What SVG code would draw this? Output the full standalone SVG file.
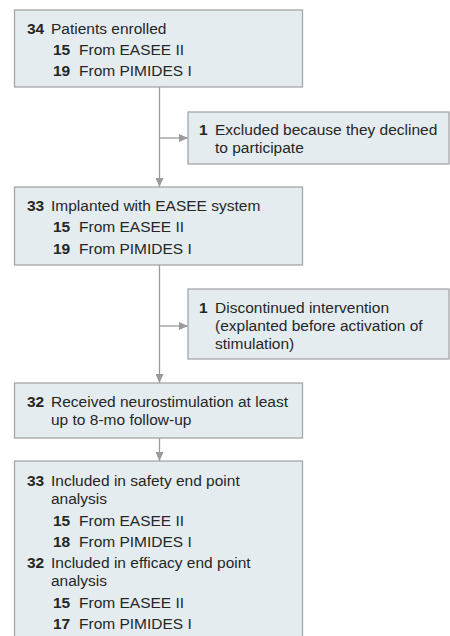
<svg xmlns="http://www.w3.org/2000/svg" width="450" height="636" viewBox="0 0 450 636">
<defs>
<marker id="arr" markerUnits="userSpaceOnUse" markerWidth="9" markerHeight="8" refX="9" refY="4" orient="auto">
<path d="M0,0 L9,4 L0,8 z" fill="#9a9a9a"/>
</marker>
<style>
.box{fill:#e4ecf0;stroke:#a4a7aa;stroke-width:1.3}
text{font-family:"Liberation Sans",Arial,sans-serif;font-size:15.5px;fill:#262626}
.b{font-weight:bold}
.ln{stroke:#9a9a9a;stroke-width:1.3;fill:none}
</style>
</defs>
<rect width="450" height="636" fill="#ffffff"/>
<g id="connectors">
<line class="ln" x1="159.5" y1="87" x2="159.5" y2="187" marker-end="url(#arr)"/>
<line class="ln" x1="159.5" y1="138" x2="188" y2="138" marker-end="url(#arr)"/>
<line class="ln" x1="159.5" y1="265" x2="159.5" y2="383" marker-end="url(#arr)"/>
<line class="ln" x1="159.5" y1="326" x2="188" y2="326" marker-end="url(#arr)"/>
<line class="ln" x1="159.5" y1="438" x2="159.5" y2="461" marker-end="url(#arr)"/>
</g>
<g id="enrolled">
<rect class="box" x="14.5" y="10" width="288" height="77"/>
<text x="27" y="34" class="b">34</text><text x="51" y="34">Patients enrolled</text>
<text x="53" y="55" class="b">15</text><text x="79" y="55">From EASEE II</text>
<text x="53" y="76" class="b">19</text><text x="79" y="76">From PIMIDES I</text>
</g>
<g id="excluded">
<rect class="box" x="188" y="112" width="261" height="52"/>
<text x="199" y="135" class="b">1</text><text x="215" y="135">Excluded because they declined</text>
<text x="215" y="153">to participate</text>
</g>
<g id="implanted">
<rect class="box" x="14.5" y="187" width="288" height="78"/>
<text x="27" y="211" class="b">33</text><text x="51" y="211">Implanted with EASEE system</text>
<text x="53" y="232" class="b">15</text><text x="79" y="232">From EASEE II</text>
<text x="53" y="254" class="b">19</text><text x="79" y="254">From PIMIDES I</text>
</g>
<g id="discontinued">
<rect class="box" x="188" y="289" width="261" height="70"/>
<text x="199" y="313" class="b">1</text><text x="215" y="313">Discontinued intervention</text>
<text x="215" y="331">(explanted before activation of</text>
<text x="215" y="349">stimulation)</text>
</g>
<g id="received">
<rect class="box" x="14.5" y="383" width="288" height="55"/>
<text x="27" y="407" class="b">32</text><text x="51" y="407">Received neurostimulation at least</text>
<text x="51" y="425">up to 8-mo follow-up</text>
</g>
<g id="included">
<rect class="box" x="14.5" y="461" width="288" height="190"/>
<text x="27" y="486" class="b">33</text><text x="51" y="486">Included in safety end point</text>
<text x="51" y="504">analysis</text>
<text x="53" y="525.5" class="b">15</text><text x="79" y="525.5">From EASEE II</text>
<text x="53" y="547" class="b">18</text><text x="79" y="547">From PIMIDES I</text>
<text x="27" y="568" class="b">32</text><text x="51" y="568">Included in efficacy end point</text>
<text x="51" y="586">analysis</text>
<text x="53" y="608" class="b">15</text><text x="79" y="608">From EASEE II</text>
<text x="53" y="629" class="b">17</text><text x="79" y="629">From PIMIDES I</text>
</g>
</svg>
